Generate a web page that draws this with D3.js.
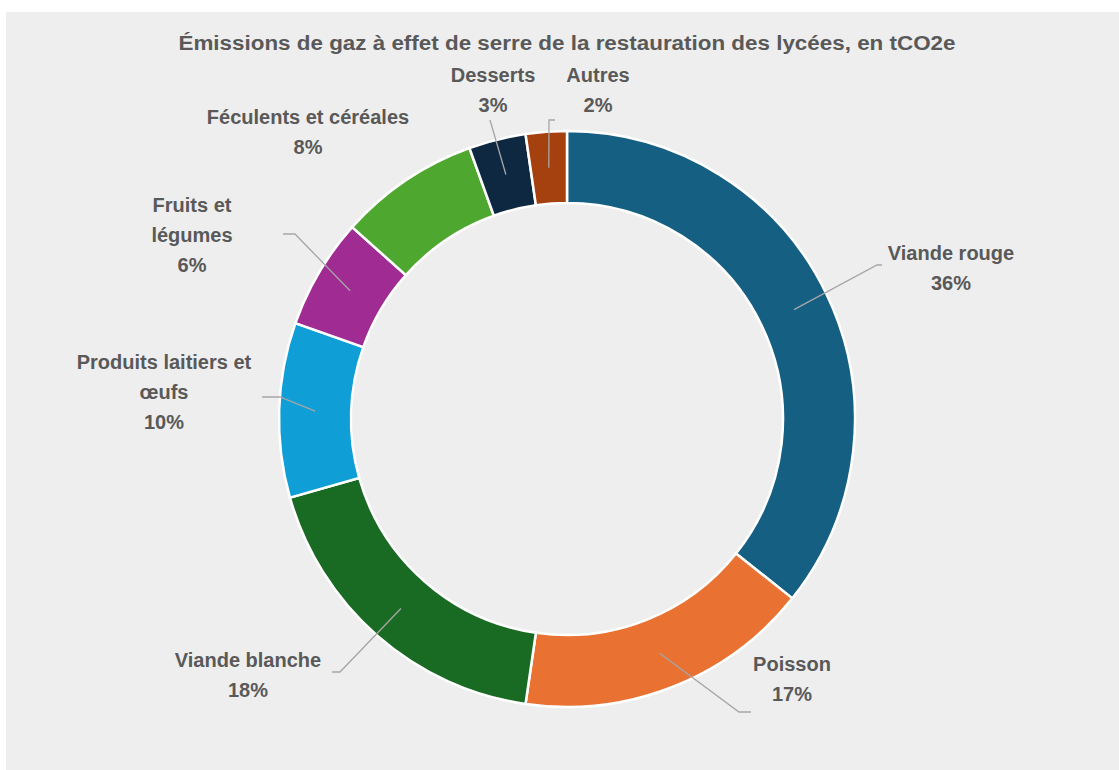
<!DOCTYPE html>
<html>
<head>
<meta charset="utf-8">
<script src="https://cdn.jsdelivr.net/npm/d3@7"></script>
<style>
  body { margin: 0; background: #fff; }
  text { font-family: "Liberation Sans", Arial, sans-serif; fill: #595959; }
</style>
</head>
<body>
<div id="chart"></div>
<script>
// data (shares in %)
const categories = ["Viande rouge", "Poisson", "Viande blanche", "Produits laitiers et œufs",
  "Fruits et légumes", "Féculents et céréales", "Desserts", "Autres"]
const values = [35.7, 16.6, 18.3, 9.8, 6.2, 7.9, 3.2, 2.3]
const colors = ["#156082", "#e97132", "#196b24", "#0f9ed5", "#a02b93", "#4ea72e", "#0e2841", "#a5410e"]
// how each label wraps, like Excel does it
const labelLines = [["Viande rouge"], ["Poisson"], ["Viande blanche"], ["Produits laitiers et", "œufs"],
  ["Fruits et", "légumes"], ["Féculents et céréales"], ["Desserts"], ["Autres"]]

// layout: label centre (first line) and leader elbow, relative to donut centre
const labelPos = [[384, -166], [225, 245], [-319, 241], [-403, -57], [-375, -214], [-259, -302], [-74, -344], [31, -344]]
const leaderEnd = [[310, -154], [172, 293], [-227, 253], [-287, -22], [-272, -185], null, [-77, -299], [-18, -299]]
const leaderTail = [5, 12, -8, -18, -12, 0, 0, 6]

const width = 1119, height = 770
const cx = 567, cy = 419
const outerR = 288, innerR = 216

const svg = d3.select("#chart").append("svg")
  .attr("width", width)
  .attr("height", height)

svg.append("rect")
  .attr("x", 6).attr("y", 12)
  .attr("width", width - 6).attr("height", height - 12)
  .attr("fill", "#eeeeee")

svg.append("text")
  .attr("x", cx).attr("y", 50)
  .attr("text-anchor", "middle")
  .attr("font-size", 20)
  .attr("font-weight", "bold")
  .attr("textLength", 777)
  .attr("lengthAdjust", "spacingAndGlyphs")
  .text("Émissions de gaz à effet de serre de la restauration des lycées, en tCO2e")

const data = categories.map((c, i) => ({ key: c, value: values[i], color: colors[i], i }))

const pie = d3.pie().sort(null).value(d => d.value)
const arc = d3.arc().innerRadius(innerR).outerRadius(outerR)

let g = svg.append("g")
  .attr("transform", "translate(" + cx + "," + cy + ")")

const arcs = pie(data)

g.selectAll(".slice")
  .data(arcs)
  .enter()
  .append("path")
  .attr("class", "slice")
  .attr("d", arc)
  .attr("fill", d => d.data.color)
  .attr("stroke", "#ffffff")
  .attr("stroke-width", 2.5)

// leader lines
g.selectAll(".leader")
  .data(arcs.filter(d => leaderEnd[d.data.i]))
  .enter()
  .append("polyline")
  .attr("class", "leader")
  .attr("fill", "none")
  .attr("stroke", "#a6a6a6")
  .attr("stroke-width", 1.3)
  .attr("points", d => {
    let s = arc.centroid(d)
    let e = leaderEnd[d.data.i]
    let t = leaderTail[d.data.i]
    return [s, e, [e[0] + t, e[1]]].map(p => p.join(",")).join(" ")
  })

// labels
let labels = g.selectAll(".label")
  .data(arcs)
  .enter()
  .append("text")
  .attr("class", "label")
  .attr("text-anchor", "middle")
  .attr("font-size", 20)
  .attr("font-weight", "bold")

labels.each(function(d) {
  let p = labelPos[d.data.i]
  let lines = labelLines[d.data.i].concat([Math.round(d.data.value) + "%"])
  d3.select(this).selectAll("tspan")
    .data(lines)
    .enter()
    .append("tspan")
    .attr("x", p[0])
    .attr("y", (l, k) => p[1] + 7 + k * 30)
    .text(l => l)
})
</script>
</body>
</html>
